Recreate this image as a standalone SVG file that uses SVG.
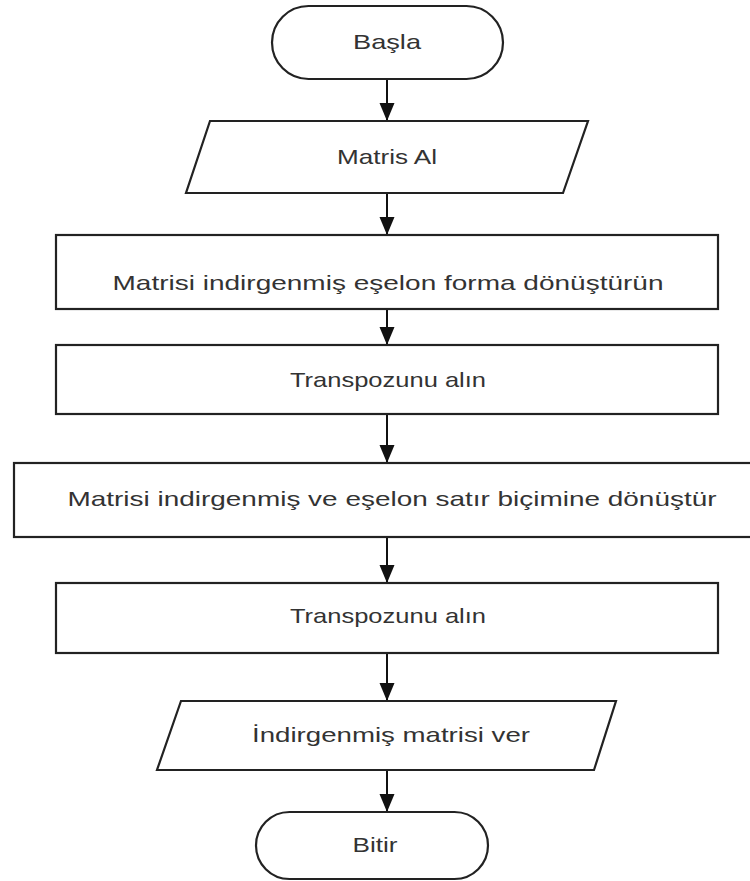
<svg xmlns="http://www.w3.org/2000/svg" width="750" height="881" viewBox="0 0 750 881">
<style>
.shape{fill:#ffffff;stroke:#222222;stroke-width:2.2}
.lbl{font-family:"Liberation Sans",Arial,sans-serif;font-size:21px;fill:#333333;text-anchor:middle}
.conn{stroke:#111111;stroke-width:2;fill:none}
</style>
<defs>
<marker id="ah" markerUnits="userSpaceOnUse" markerWidth="18" markerHeight="16" refX="18" refY="8" orient="auto" viewBox="0 0 18 16">
<path d="M0,0.5 L18,8 L0,15.5 z" fill="#111111"/>
</marker>
</defs>
<rect width="750" height="881" fill="#ffffff"/>
<g id="connectors">
<line class="conn" x1="387" y1="79" x2="387" y2="121" marker-end="url(#ah)"/>
<line class="conn" x1="387" y1="193" x2="387" y2="235" marker-end="url(#ah)"/>
<line class="conn" x1="387" y1="309" x2="387" y2="345" marker-end="url(#ah)"/>
<line class="conn" x1="387" y1="414" x2="387" y2="463" marker-end="url(#ah)"/>
<line class="conn" x1="387" y1="537" x2="387" y2="583" marker-end="url(#ah)"/>
<line class="conn" x1="387" y1="653" x2="387" y2="701" marker-end="url(#ah)"/>
<line class="conn" x1="387" y1="770" x2="387" y2="812" marker-end="url(#ah)"/>
</g>
<g id="start">
<rect class="shape" x="272" y="6" width="231" height="73" rx="36.5" ry="36.5"/>
<text class="lbl" x="387" y="49" textLength="68" lengthAdjust="spacingAndGlyphs">Başla</text>
</g>
<g id="input">
<polygon class="shape" points="210,121 588,121 563,193 186,193"/>
<text class="lbl" x="387" y="164" textLength="100" lengthAdjust="spacingAndGlyphs">Matris Al</text>
</g>
<g id="step1">
<rect class="shape" x="56" y="235" width="662" height="74"/>
<text class="lbl" x="388" y="290" textLength="551" lengthAdjust="spacingAndGlyphs">Matrisi indirgenmiş eşelon forma dönüştürün</text>
</g>
<g id="step2">
<rect class="shape" x="56" y="345" width="662" height="69"/>
<text class="lbl" x="388" y="387" textLength="196" lengthAdjust="spacingAndGlyphs">Transpozunu alın</text>
</g>
<g id="step3">
<rect class="shape" x="14" y="463" width="750" height="74"/>
<text class="lbl" x="392" y="506" textLength="649" lengthAdjust="spacingAndGlyphs">Matrisi indirgenmiş ve eşelon satır biçimine dönüştür</text>
</g>
<g id="step4">
<rect class="shape" x="56" y="583" width="662" height="70"/>
<text class="lbl" x="388" y="623" textLength="196" lengthAdjust="spacingAndGlyphs">Transpozunu alın</text>
</g>
<g id="output">
<polygon class="shape" points="181,701 616,701 594,770 157,770"/>
<text class="lbl" x="391" y="742" textLength="278" lengthAdjust="spacingAndGlyphs">İndirgenmiş matrisi ver</text>
</g>
<g id="end">
<rect class="shape" x="256" y="812" width="232" height="67" rx="33.5" ry="33.5"/>
<text class="lbl" x="375" y="852" textLength="45" lengthAdjust="spacingAndGlyphs">Bitir</text>
</g>
</svg>
